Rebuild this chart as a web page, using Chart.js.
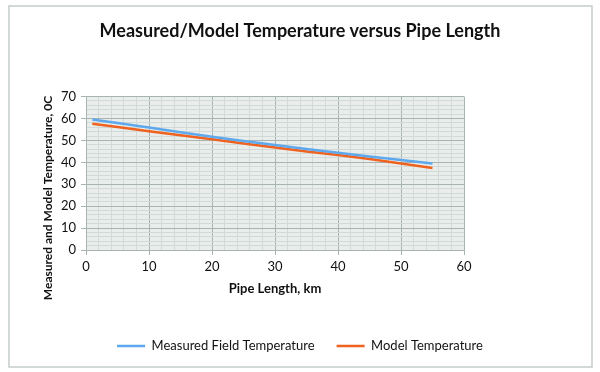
<!DOCTYPE html>
<html>
<head>
<meta charset="utf-8">
<script src="https://cdn.jsdelivr.net/npm/chart.js@4"></script>
<style>
  html, body { margin: 0; padding: 0; background: #fff; }
  #wrap { width: 600px; height: 372px; }
</style>
</head>
<body>
<div id="wrap"><canvas id="tempChart" width="600" height="372"></canvas></div>
<script>
// Pipe length (km) and temperatures
const pipeLength = [1, 5, 10, 15, 20, 25, 30, 35, 40, 45, 50, 55];
const measuredTemp = [59.6, 58.0, 55.9, 53.7, 51.7, 49.7, 47.9, 46.1, 44.4, 42.7, 41.1, 39.5];
const modelTemp = [57.6, 56.1, 54.2, 52.4, 50.5, 48.6, 46.8, 44.9, 43.3, 41.5, 39.5, 37.4];

const xMin = 0, xMax = 60, xMajor = 10, xMinor = 2;
const yMin = 0, yMax = 70, yMajor = 10, yMinor = 2;

const FONT = 'Lato, "Open Sans", sans-serif';
const yTitle = 'Measured and Model Temperature, 0C';

function toPoints(xs, ys) {
    return xs.map((x, i) => ({ x: x, y: ys[i] }));
}

function gridColor(c) {
    const v = c.tick && c.tick.value;
    return v % 10 === 0 ? '#a8b4b1' : '#d2dad8';
}
function tickColor(c) {
    const v = c.tick && c.tick.value;
    return v % 10 === 0 ? '#a8b4b1' : 'rgba(0,0,0,0)';
}

// frame round the chart, plot background and the rotated y title
const framePlugin = {
    id: 'frame',
    beforeDraw(chart) {
        const ctx = chart.ctx;
        const a = chart.chartArea;
        ctx.save();
        ctx.fillStyle = '#fff';
        ctx.fillRect(0, 0, chart.width, chart.height);
        ctx.strokeStyle = '#c5cccb';
        ctx.lineWidth = 1.5;
        ctx.strokeRect(9, 6, 583, 361);
        ctx.fillStyle = '#e9eeec';
        ctx.fillRect(a.left, a.top, a.right - a.left, a.bottom - a.top);
        ctx.restore();
    },
    afterDraw(chart) {
        const ctx = chart.ctx;
        ctx.save();
        ctx.translate(48, 198);
        ctx.rotate(-Math.PI / 2);
        ctx.font = 'bold 12px ' + FONT;
        ctx.fillStyle = '#111';
        ctx.textAlign = 'center';
        ctx.textBaseline = 'middle';
        ctx.fillText(yTitle, 0, 0);
        ctx.restore();
    }
};

new Chart(document.getElementById('tempChart'), {
    type: 'line',
    data: {
        datasets: [{
            label: 'Measured Field Temperature',
            data: toPoints(pipeLength, measuredTemp),
            borderColor: '#5ea9ee',
            backgroundColor: '#5ea9ee',
            borderWidth: 2.5,
            pointRadius: 0,
            tension: 0
        }, {
            label: 'Model Temperature',
            data: toPoints(pipeLength, modelTemp),
            borderColor: '#f0621f',
            backgroundColor: '#f0621f',
            borderWidth: 2.5,
            pointRadius: 0,
            tension: 0
        }]
    },
    options: {
        responsive: false,
        animation: false,
        layout: { padding: { left: 20, right: 20, top: 8, bottom: 9.5 } },
        plugins: {
            title: {
                display: true,
                text: 'Measured/Model Temperature versus Pipe Length',
                color: '#111',
                font: { family: FONT, size: 18, weight: 'bold' },
                padding: { top: 12, bottom: 55 }
            },
            legend: {
                position: 'bottom',
                labels: {
                    color: '#111',
                    font: { family: FONT, size: 13 },
                    usePointStyle: true,
                    pointStyle: 'line',
                    pointStyleWidth: 28,
                    padding: 22
                }
            },
            tooltip: { enabled: false }
        },
        scales: {
            x: {
                type: 'linear',
                min: xMin,
                max: xMax,
                afterFit(scale) { scale.height = 67.5; },
                ticks: {
                    stepSize: xMinor,
                    maxTicksLimit: 100,
                    autoSkip: false,
                    maxRotation: 0,
                    padding: 4,
                    color: '#111',
                    font: { family: FONT, size: 13 },
                    callback: v => (v % xMajor === 0 ? v : '')
                },
                grid: { color: gridColor, tickColor: tickColor, tickLength: 5 },
                border: { color: '#a8b4b1' },
                title: {
                    display: true,
                    text: 'Pipe Length, km',
                    color: '#111',
                    font: { family: FONT, size: 13, weight: 'bold' },
                    padding: { top: 0, bottom: 21 }
                }
            },
            y: {
                min: yMin,
                max: yMax,
                afterFit(scale) { scale.width = 66; },
                ticks: {
                    stepSize: yMinor,
                    maxTicksLimit: 100,
                    autoSkip: false,
                    padding: 5,
                    color: '#111',
                    font: { family: FONT, size: 13 },
                    callback: v => (v % yMajor === 0 ? v : '')
                },
                grid: { color: gridColor, tickColor: tickColor, tickLength: 5 },
                border: { color: '#a8b4b1' }
            },
            // empty right-hand space, keeps the plot narrow like the original
            spacer: {
                type: 'linear',
                position: 'right',
                display: true,
                afterFit(scale) { scale.width = 116; },
                ticks: { display: false },
                grid: { display: false, drawOnChartArea: false },
                border: { display: false }
            }
        }
    },
    plugins: [framePlugin]
});
</script>
</body>
</html>
